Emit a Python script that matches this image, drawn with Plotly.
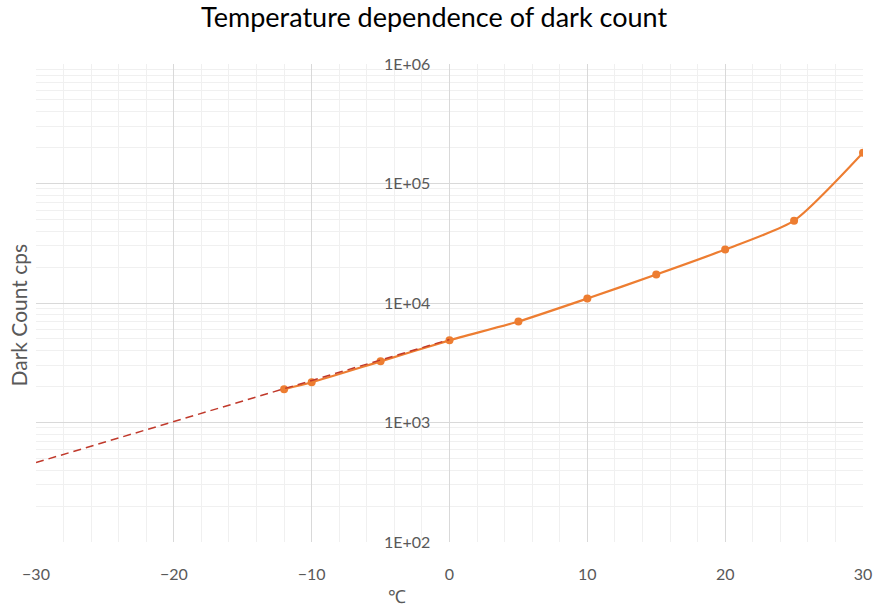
import plotly.graph_objects as go

# Data
temps = [-12, -10, -5, 0, 5, 10, 15, 20, 25, 30]
dark_counts = [1900, 2170, 3250, 4870, 7000, 10900, 17300, 28000, 48900, 181000]

trend_x = [-30, 0]
trend_y = [462, 4950]

x_ticks = [-30, -20, -10, 0, 10, 20, 30]
y_tickvals = [1e2, 1e3, 1e4, 1e5, 1e6]
y_ticktext = ["1E+02", "1E+03", "1E+04", "1E+05", "1E+06"]

FONT = "Lato"
GREY = "#595959"

fig = go.Figure()

fig.add_trace(go.Scatter(
    x=temps, y=dark_counts, mode="lines+markers",
    line=dict(color="#ED7D31", width=2.25, shape="spline", smoothing=0.6),
    marker=dict(color="#ED7D31", size=8),
    showlegend=False,
))

fig.add_trace(go.Scatter(
    x=trend_x, y=trend_y, mode="lines",
    line=dict(color="#C0392B", width=1.5, dash="8px,5px"),
    showlegend=False, hoverinfo="skip",
))

fig.update_layout(
    width=877, height=608,
    margin=dict(l=36, r=14, t=64, b=66, autoexpand=False),
    plot_bgcolor="white", paper_bgcolor="white",
    font=dict(family=FONT, color=GREY, size=16),
    title=dict(
        text="Temperature dependence of dark count",
        font=dict(family=FONT, size=27, color="#000000"),
        x=0.495, xanchor="center", xref="container",
        y=1 - 18 / 608, yanchor="middle", yref="container",
    ),
    xaxis=dict(
        range=[-30, 30], tickvals=x_ticks, automargin=False,
        showgrid=True, gridcolor="#D9D9D9", gridwidth=1,
        zeroline=False, showline=False,
        ticks="outside", ticklen=18, tickcolor="rgba(0,0,0,0)",
        tickfont=dict(family=FONT, size=16, color=GREY),
        minor=dict(dtick=2, ticks="", showgrid=True, gridcolor="#F0F0F0", gridwidth=1),
    ),
    yaxis=dict(
        type="log", range=[2, 6], automargin=False,
        tickvals=y_tickvals, ticktext=y_ticktext,
        anchor="free", position=0.5,
        showgrid=True, gridcolor="#D9D9D9", gridwidth=1,
        zeroline=False, showline=False,
        ticks="outside", ticklen=16, tickcolor="rgba(0,0,0,0)",
        tickfont=dict(family=FONT, size=16, color=GREY),
        minor=dict(dtick="D1", ticks="", showgrid=True, gridcolor="#F0F0F0", gridwidth=1),
    ),
    annotations=[
        dict(text="Dark Count cps", xref="paper", yref="paper",
             x=(18 - 36) / 827, y=(543 - 316) / 479,
             xanchor="center", yanchor="middle", textangle=-90,
             showarrow=False, font=dict(family=FONT, size=21, color=GREY)),
        dict(text="℃", xref="paper", yref="paper",
             x=(397 - 36) / 827, y=(543 - 597) / 479,
             xanchor="center", yanchor="middle",
             showarrow=False, font=dict(family=FONT, size=18, color=GREY)),
    ],
)

fig.write_html("out.html")
